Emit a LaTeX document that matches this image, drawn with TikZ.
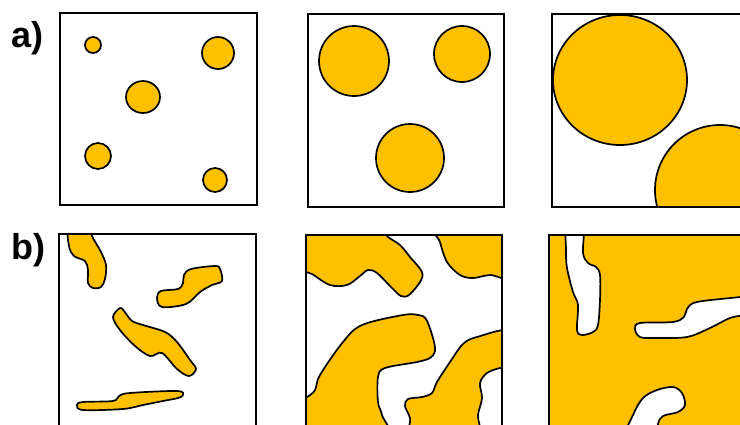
\documentclass[tikz,border=0pt]{standalone}
\usepackage{fontspec}
\newfontfamily\tagfont{Liberation Sans}
\usetikzlibrary{positioning}

\definecolor{grainorange}{HTML}{FFC000}

\begin{document}
\begin{tikzpicture}[
        x=1pt, y=-1pt,
        panel/.style={draw=black, line width=2pt},
        grain/.style={draw=black, fill=grainorange, line width=1.7pt},
        pore/.style={draw=black, fill=white, line width=1.7pt},
        blob/.style={smooth cycle, tension=0.55},
        tag/.style={anchor=base west, inner sep=0pt, font=\tagfont\fontsize{36}{40}\selectfont\bfseries}
    ]
        \useasboundingbox (0,0) rectangle (740,424);
        \clip (0,0) rectangle (740,424);

        % Row labels
        \node (taga) [tag] at (11,47) {a)};
        \node (tagb) [tag] at (11,259) {b)};

        % Row a: separate round particles
        \begin{scope}
            \clip (60,13) rectangle (257,205);
            \draw[grain] (93,45) circle (8pt);
            \draw[grain] (218,53) circle (16pt);
            \draw[grain] (143,97) circle[x radius=17pt, y radius=16pt];
            \draw[grain] (98,156) circle (13pt);
            \draw[grain] (215,180) circle (12pt);
        \end{scope}
        \draw[panel] (60,13) rectangle (257,205);

        \begin{scope}
            \clip (308,14) rectangle (504,207);
            \draw[grain] (354,61) circle (35pt);
            \draw[grain] (462,54) circle (28pt);
            \draw[grain] (410,158) circle (34pt);
        \end{scope}
        \draw[panel] (308,14) rectangle (504,207);

        \begin{scope}
            \clip (552,14) rectangle (748,207);
            \draw[grain] (620,80) circle[x radius=67pt, y radius=65pt];
            \draw[grain] (720,190) circle (65pt);
        \end{scope}
        \draw[panel] (552,14) rectangle (748,207);

        % Row b: irregular particles
        \begin{scope}
            \clip (59,234) rectangle (256,431);
            \draw[grain] plot[blob] coordinates {(69,226) (69,246) (74,256) (85,261) (88,270) (88,283) (93,288) (101,287) (105,279) (106,265) (101,252) (92,236) (90,226)};
            \draw[grain] plot[blob] coordinates {(157,298) (161,291) (178,289) (183,283) (184,275) (191,269) (215,266) (220,269) (222,281) (212,285) (200,292) (186,304) (162,307)};
            \draw[grain] plot[blob] coordinates {(120,308) (113,317) (120,330) (135,346) (150,356) (162,353) (177,369) (189,376) (196,369) (190,360) (177,342) (165,332) (143,325) (132,321) (124,311)};
            \draw[grain] plot[blob] coordinates {(77,405) (83,402) (113,401) (119,396) (130,393) (177,391) (183,395) (178,398) (163,401) (143,405) (123,409) (83,410)};
        \end{scope}
        \draw[panel] (59,234) rectangle (256,431);

        \begin{scope}
            \clip (306,235) rectangle (502,432);
            \draw[grain] plot[blob] coordinates {(298,266) (312,274) (330,285) (347,285) (360,276) (368,270) (377,273) (392,288) (401,296) (409,295) (420,282) (422,272) (410,257) (400,245) (387,236) (383,226) (298,226)};
            \draw[grain] plot[blob] coordinates {(437,226) (440,242) (447,262) (460,275) (473,278) (490,275) (512,276) (512,226)};
            \draw[grain] plot[blob] coordinates {(298,400) (307,397) (315,390) (320,375) (343,342) (362,325) (403,315) (418,315) (426,319) (433,338) (435,351) (430,358) (417,362) (385,368) (378,377) (378,402) (382,415) (386,440) (298,440)};
            \draw[grain] plot[blob] coordinates {(512,331) (477,337) (463,344) (450,362) (437,382) (432,393) (422,397) (408,399) (405,406) (410,418) (414,440) (476,440) (478,415) (482,398) (480,383) (487,373) (500,368) (512,367)};
        \end{scope}
        \draw[panel] (306,235) rectangle (502,432);

        % Row b, last panel: pores in a continuous matrix
        \begin{scope}
            \clip (549,235) rectangle (745,432);
            \fill[grainorange] (549,235) rectangle (745,432);
            \draw[pore] plot[blob] coordinates {(567,226) (566,250) (567,268) (573,292) (578,305) (577,330) (582,335) (593,332) (598,325) (600,300) (600,275) (596,267) (588,263) (583,253) (583,226)};
            \draw[pore] plot[blob] coordinates {(752,295) (740,297) (697,302) (687,309) (684,317) (673,322) (640,323) (635,329) (640,337) (655,338) (687,337) (710,328) (730,318) (752,312)};
            \draw[pore] plot[blob] coordinates {(625,440) (633,415) (643,398) (657,390) (673,387) (682,393) (685,405) (678,412) (663,416) (658,424) (657,440)};
        \end{scope}
        \draw[panel] (549,235) rectangle (745,432);
    \end{tikzpicture}
\end{document}
